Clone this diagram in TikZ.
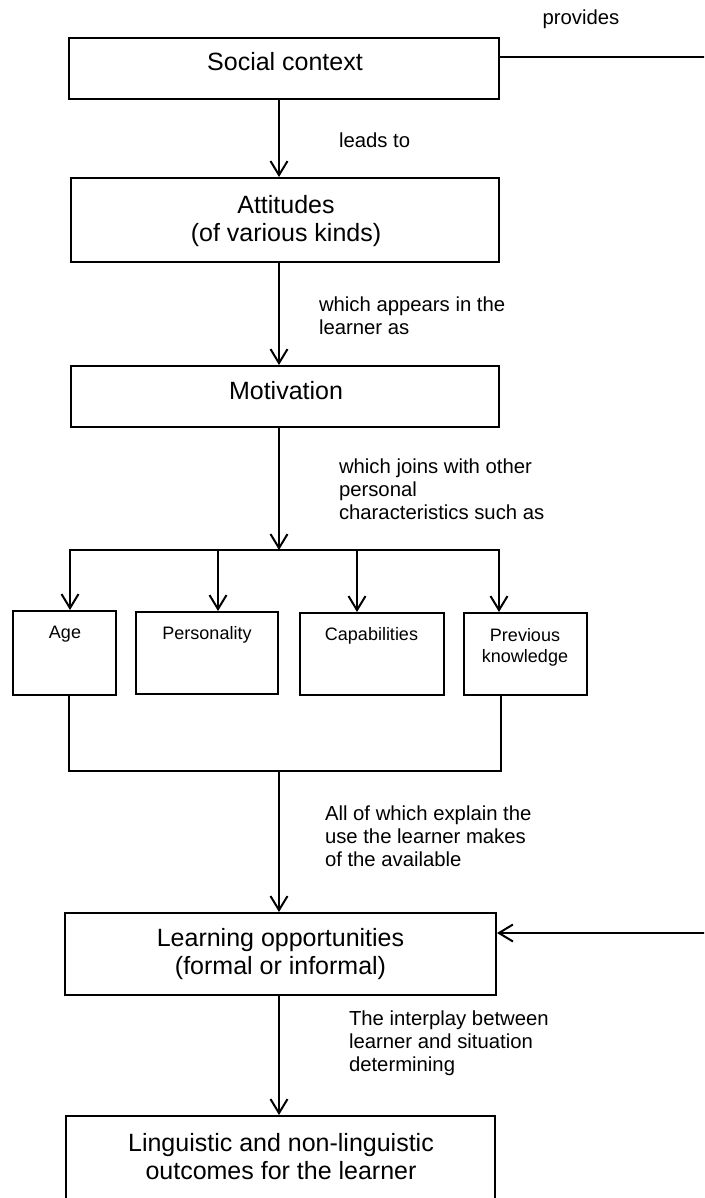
\documentclass[tikz,border=0pt]{standalone}
\usepackage{fontspec}
\setmainfont{Liberation Sans}
\usetikzlibrary{arrows.meta}
\begin{document}
\begin{tikzpicture}[x=1pt,y=-1pt,
  line width=2pt,
  flow/.style={-{Straight Barb[length=14pt,width=17pt]}},
  box/.style={draw, rectangle, inner sep=0pt},
  boxtext/.style={inner sep=0pt, align=center, font=\fontsize{25}{28}\selectfont},
  smalltext/.style={inner sep=0pt, align=center, font=\fontsize{18}{21}\selectfont},
  note/.style={inner sep=0pt, align=left, anchor=north west, font=\fontsize{20.3}{23}\selectfont},
]
\useasboundingbox (0,0) rectangle (704,1198);
\clip (0,0) rectangle (704,1198);
\fill[white] (0,0) rectangle (704,1198);

% boxes
\node[box, minimum width=430pt, minimum height=61pt] (social)       at (284,68.5)  {};
\node[box, minimum width=428pt, minimum height=84pt] (attitudes)    at (285,220)   {};
\node[box, minimum width=428pt, minimum height=61pt] (motivation)   at (285,396.5) {};
\node[box, minimum width=103pt, minimum height=84pt] (age)          at (64.5,653)  {};
\node[box, minimum width=142pt, minimum height=82pt] (personality)  at (207,653)   {};
\node[box, minimum width=144pt, minimum height=82pt] (capabilities) at (372,654)   {};
\node[box, minimum width=123pt, minimum height=82pt] (previous)     at (525.5,654) {};
\node[box, minimum width=431pt, minimum height=82pt] (learning)     at (280.5,954) {};
\node[box, minimum width=429pt, minimum height=124pt] (outcomes)    at (280.5,1178) {};

% box texts
\node[boxtext, anchor=base]  (socialtext)     at (285,71)   {Social context};
\node[boxtext, anchor=north] (attitudestext)  at (286,194)  {Attitudes\\(of various kinds)};
\node[boxtext, anchor=base]  (motivationtext) at (286,399)  {Motivation};
\node[smalltext, anchor=base]  (agetext)          at (65,638)    {Age};
\node[smalltext, anchor=base]  (personalitytext)  at (207,639)   {Personality};
\node[smalltext, anchor=base]  (capabilitiestext) at (371.5,640) {Capabilities};
\node[smalltext, anchor=north] (previoustext)     at (525,627)   {Previous\\knowledge};
\node[boxtext, anchor=north] (learningtext)  at (280.5,927) {Learning opportunities\\(formal or informal)};
\node[boxtext, anchor=north] (outcomestext)  at (281,1132)  {Linguistic and non-linguistic\\outcomes for the learner};

% connector labels
\node[note, anchor=base]      (provides)  at (581,24.5) {provides};
\node[note, anchor=base west] (leadsto)   at (338,148)  {leads to};
\node[note] (appears)   at (318,296)  {which appears in the\\learner as};
\node[note] (joins)     at (338,458)  {which joins with other\\personal\\characteristics such as};
\node[note] (explain)   at (324,805)  {All of which explain the\\use the learner makes\\of the available};
\node[note] (interplay) at (348,1010) {The interplay between\\learner and situation\\determining};

% routing points
\coordinate (spine) at (279,0);
\coordinate (bl) at (70,550);
\coordinate (b2) at (218,550);
\coordinate (b3) at (357,550);
\coordinate (br) at (499,550);
\coordinate (jl) at (69,771);
\coordinate (jr) at (501,771);
\coordinate (pr) at (708,57);
\coordinate (lr) at (708,933);

% main chain
\draw[flow] (social.south -| spine) -- (attitudes.north -| spine);
\draw[flow] (attitudes.south -| spine) -- (motivation.north -| spine);
\draw[flow] (motivation.south -| spine) -- (bl -| spine);

% branching to the personal characteristics
\draw[flow] (br) -- (bl) -- (age.north -| bl);
\draw[flow] (bl) -- (br) -- (previous.north -| br);
\draw[flow] (b2) -- (personality.north -| b2);
\draw[flow] (b3) -- (capabilities.north -| b3);

% joining back together
\draw (age.south -| jl) -- (jl) -- (jr) -- (previous.south -| jr);
\draw[flow] (jl -| spine) -- (learning.north -| spine);
\draw[flow] (learning.south -| spine) -- (outcomes.north -| spine);

% social context feeds the learning opportunities
\draw (social.east |- pr) -- (pr);
\draw[flow] (lr) -- (learning.east |- lr);
\end{tikzpicture}
\end{document}
